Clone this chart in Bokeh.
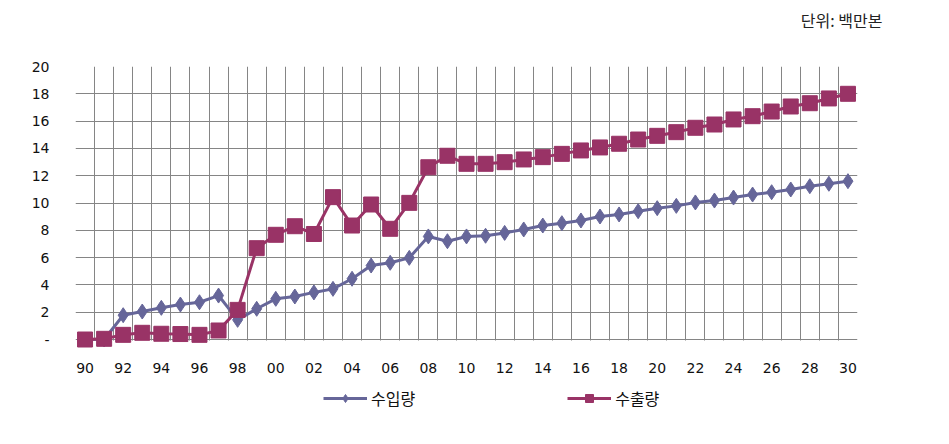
from bokeh.plotting import figure
from bokeh.models import (FixedTicker, Grid, Legend, LegendItem, Title, Range1d,
                          LabelSet, ColumnDataSource, BoxAnnotation)
from bokeh.core.properties import value
from bokeh.embed import file_html
from bokeh.resources import INLINE

years = ["90", "91", "92", "93", "94", "95", "96", "97", "98", "99",
         "00", "01", "02", "03", "04", "05", "06", "07", "08", "09",
         "10", "11", "12", "13", "14", "15", "16", "17", "18", "19",
         "20", "21", "22", "23", "24", "25", "26", "27", "28", "29", "30"]

imports = [0.0, 0.0, 1.78, 2.05, 2.32, 2.56, 2.73, 3.22, 1.44, 2.25,
           2.98, 3.15, 3.45, 3.71, 4.45, 5.42, 5.62, 5.98, 7.55, 7.2,
           7.55, 7.6, 7.81, 8.06, 8.35, 8.52, 8.72, 9.01, 9.16, 9.4,
           9.62, 9.79, 10.04, 10.18, 10.4, 10.62, 10.79, 10.99, 11.23, 11.41, 11.6]

exports = [0.0, 0.05, 0.34, 0.49, 0.42, 0.40, 0.34, 0.66, 2.17, 6.69,
           7.67, 8.3, 7.73, 10.43, 8.35, 9.89, 8.11, 10.01, 12.62, 13.46,
           12.87, 12.87, 12.99, 13.19, 13.36, 13.6, 13.85, 14.07, 14.34, 14.65,
           14.92, 15.19, 15.51, 15.75, 16.12, 16.36, 16.7, 17.07, 17.31, 17.66, 18.0]

y_ticks = [0, 2, 4, 6, 8, 10, 12, 14, 16, 18, 20]
y_tick_labels = ["-", "2", "4", "6", "8", "10", "12", "14", "16", "18", "20"]
x_tick_labels = years[::2]
series_names = ["수입량", "수출량"]
unit_text = "단위: 백만본"

IMP_COLOR = "#666699"
EXP_COLOR = "#993366"
GRID_COLOR = "#858585"

# layout constants (pixels)
PLOT_H = 273          # height of the gridded area
FRAME_H = 378         # frame extends below the grid to hold tick labels + legend
px_per_unit = PLOT_H / (y_ticks[-1] - y_ticks[0])
y_start = y_ticks[-1] - FRAME_H / px_per_unit

xs = list(range(len(years)))

p = figure(frame_width=782, frame_height=FRAME_H, output_backend="svg",
           toolbar_location=None, x_axis_location=None,
           x_range=Range1d(-0.5, len(years) - 0.5), y_range=Range1d(y_start, y_ticks[-1]),
           min_border_left=75, min_border_right=92, min_border_top=66,
           min_border_bottom=0)

p.outline_line_color = None
p.xgrid.visible = False
p.ygrid.visible = False

vgrid = Grid(dimension=0, ticker=FixedTicker(ticks=[i - 0.5 for i in range(len(years) + 1)]),
             grid_line_color=GRID_COLOR, grid_line_width=1)
hgrid = Grid(dimension=1, ticker=FixedTicker(ticks=y_ticks),
             grid_line_color=GRID_COLOR, grid_line_width=1)
p.add_layout(vgrid)
p.add_layout(hgrid)

# white mask hiding the vertical grid lines below the zero line
mask = BoxAnnotation(top=y_ticks[0] - 1.0 / px_per_unit, fill_color="white", fill_alpha=1.0,
                     line_color=None, level="underlay")
p.add_layout(mask)

# y axis
p.yaxis.ticker = FixedTicker(ticks=y_ticks)
p.yaxis.major_label_overrides = {t: l for t, l in zip(y_ticks, y_tick_labels)}
ax = p.yaxis[0]
ax.axis_line_color = None
ax.major_tick_line_color = None
ax.minor_tick_line_color = None
ax.major_label_text_font = "DejaVu Sans"
ax.major_label_text_font_size = "14px"
ax.major_label_text_color = "#111111"
ax.major_label_standoff = 20

# x tick labels (category labels, every second year)
xlab_src = ColumnDataSource(dict(x=xs[::2], y=[y_ticks[0] - 28 / px_per_unit] * len(x_tick_labels),
                                 t=x_tick_labels))
xlabels = LabelSet(x="x", y="y", text="t", source=xlab_src, text_align="center",
                   text_baseline="middle", text_font=value("DejaVu Sans"),
                   text_font_size="14px", text_color="#111111")
p.add_layout(xlabels)

l1 = p.line(xs, imports, line_color=IMP_COLOR, line_width=3)
s1 = p.scatter(xs, imports, marker="diamond", size=15, fill_color=IMP_COLOR,
               line_color=IMP_COLOR)
l2 = p.line(xs, exports, line_color=EXP_COLOR, line_width=3)
s2 = p.scatter(xs, exports, marker="square", size=15, fill_color=EXP_COLOR,
               line_color=EXP_COLOR)

legend = Legend(items=[LegendItem(label=series_names[0], renderers=[l1, s1]),
                       LegendItem(label=series_names[1], renderers=[l2, s2])],
                orientation="horizontal", location=(248, 34),
                border_line_color=None, background_fill_alpha=0,
                glyph_width=44, glyph_height=20, spacing=152, padding=2, margin=0,
                label_text_font="Noto Sans CJK KR", label_text_font_size="16px",
                label_standoff=4, label_text_color="#111111")
p.add_layout(legend)

# spacer title (nearest the frame) then the unit title above it
spacer = Title(text=" ", standoff=16, text_font_size="16px")
p.add_layout(spacer, "above")
unit = Title(text=unit_text, align="right", offset=-25, standoff=0,
             text_font="Noto Sans CJK KR", text_font_size="16px",
             text_font_style="normal", text_color="#222222")
p.add_layout(unit, "above")

open("out.html", "w").write(file_html(p, INLINE))
